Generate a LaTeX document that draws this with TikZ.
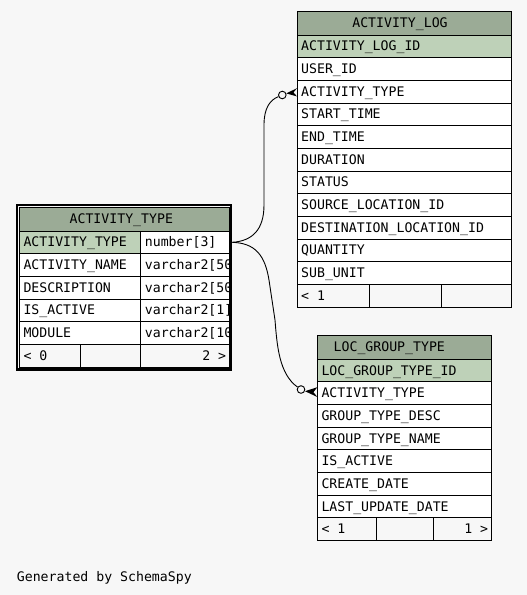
\documentclass[tikz,border=0pt]{standalone}
\usepackage{fontspec}
\setmonofont{DejaVu Sans Mono}
\definecolor{bg}{HTML}{F7F7F7}
\definecolor{hdr}{HTML}{9BAB96}
\definecolor{pk}{HTML}{BED1B8}
\tikzset{
 cell/.style={draw=black, line width=1pt, anchor=north west, inner sep=0, outer sep=0},
 txt/.style={anchor=base west, inner sep=0, font=\ttfamily\fontsize{13.2}{15}\selectfont},
 txtr/.style={txt, anchor=base east},
 ttl/.style={txt, anchor=base},
 rel/.style={draw=black, line width=0.9pt},
 opt/.style={circle, draw=black, line width=0.9pt, fill=bg, minimum size=7.6pt, inner sep=0},
}
\newcommand{\cellbox}[7]{%
  \node[cell, fill=#6, minimum width=#4pt, minimum height=#5pt] (#1) at (#2,#3) {};
  \node[txt] (#1-t) at ([xshift=4pt,yshift=-4.6pt]#1.west) {#7};}
\newcommand{\emptybox}[6]{%
  \node[cell, fill=#6, minimum width=#4pt, minimum height=#5pt] (#1) at (#2,#3) {};}
\begin{document}
\begin{tikzpicture}[x=1pt,y=-1pt]
\fill[bg] (0,0) rectangle (527,595);
\useasboundingbox (0,0) rectangle (527,595);

% ---------- ACTIVITY_LOG ----------
\emptybox{al-h}{297}{11}{214}{24}{hdr}
\node[ttl] (al-title) at ([xshift=-4pt,yshift=-4.6pt]al-h.center) {ACTIVITY\_LOG};
\cellbox{al-r0}{297}{35}{214}{22.67}{pk}{ACTIVITY\_LOG\_ID}
\foreach \t [count=\i] in {USER\_ID,ACTIVITY\_TYPE,START\_TIME,END\_TIME,DURATION,STATUS,SOURCE\_LOCATION\_ID,DESTINATION\_LOCATION\_ID,QUANTITY,SUB\_UNIT}{
  \cellbox{al-r\i}{297}{35+22.67*\i}{214}{22.67}{white}{\t}
}
\cellbox{al-f1}{297}{284.4}{72.7}{22.67}{bg}{< 1}
\emptybox{al-f2}{369.7}{284.4}{71.3}{22.67}{bg}
\emptybox{al-f3}{441}{284.4}{70}{22.67}{bg}

% ---------- ACTIVITY_TYPE ----------
\emptybox{at-h}{19.3}{207}{210}{24}{hdr}
\node[ttl] (at-title) at ([xshift=-3pt,yshift=-4.6pt]at-h.center) {ACTIVITY\_TYPE};
\cellbox{at-r0a}{19.3}{231}{121.4}{22.67}{pk}{ACTIVITY\_TYPE}
\cellbox{at-r0b}{140.7}{231}{88.6}{22.67}{white}{number[3]}
\foreach \a/\b [count=\i] in {ACTIVITY\_NAME/varchar2[50,DESCRIPTION/varchar2[50,IS\_ACTIVE/varchar2[1],MODULE/varchar2[10}{
  \cellbox{at-r\i a}{19.3}{231+22.67*\i}{121.4}{22.67}{white}{\a}
  \cellbox{at-r\i b}{140.7}{231+22.67*\i}{88.6}{22.67}{white}{\b}
}
\cellbox{at-f1}{19.3}{344.4}{61.4}{22.67}{bg}{< 0}
\emptybox{at-f2}{80.7}{344.4}{60}{22.67}{bg}
\emptybox{at-f3}{140.7}{344.4}{88.6}{22.67}{bg}
\node[txtr] (at-f3-t) at ([xshift=-3pt,yshift=-4.6pt]at-f3.east) {2 >};
\draw[line width=2.2pt] (17.0,205.3) rectangle (231.3,369.4);

% ---------- LOC_GROUP_TYPE ----------
\emptybox{lg-h}{317.3}{335.3}{174}{24}{hdr}
\node[ttl] (lg-title) at ([xshift=-15pt,yshift=-4.6pt]lg-h.center) {LOC\_GROUP\_TYPE};
\cellbox{lg-r0}{317.3}{359.3}{174}{22.67}{pk}{LOC\_GROUP\_TYPE\_ID}
\foreach \t [count=\i] in {ACTIVITY\_TYPE,GROUP\_TYPE\_DESC,GROUP\_TYPE\_NAME,IS\_ACTIVE,CREATE\_DATE,LAST\_UPDATE\_DATE}{
  \cellbox{lg-r\i}{317.3}{359.3+22.67*\i}{174}{22.67}{white}{\t}
}
\cellbox{lg-f1}{317.3}{517.6}{59}{22.67}{bg}{< 1}
\emptybox{lg-f2}{376.3}{517.6}{57}{22.67}{bg}
\emptybox{lg-f3}{433.3}{517.6}{58}{22.67}{bg}
\node[txtr] (lg-f3-t) at ([xshift=-3pt,yshift=-4.6pt]lg-f3.east) {1 >};

% ---------- relationships ----------
\node[opt] (c1) at (282.3,95) {};
\node[opt] (c2) at (301,389.5) {};
\draw[rel] ([xshift=3pt]at-r0b.east) .. controls (252,241) and (264,230) .. (264,205) -- (264,125) .. controls (264,108) and (270,100) .. (c1);
\draw[rel] ([xshift=3pt]at-r0b.east) .. controls (255,243) and (265,255) .. (269,280) -- (275,320) .. controls (277,345) and (279,374) .. (c2);
\fill (286.2,93.4) -- (al-r2.west |- 0,88.2) -- (293.5,92.4) -- (al-r2.west |- 0,96.4) -- cycle;
\fill (305.0,391.2) -- (lg-r1.west |- 0,387.2) -- (313.5,392.2) -- (lg-r1.west |- 0,397.0) -- cycle;

\node[txt] (gen) at (16.7,581.7) {Generated by SchemaSpy};
\end{tikzpicture}
\end{document}
